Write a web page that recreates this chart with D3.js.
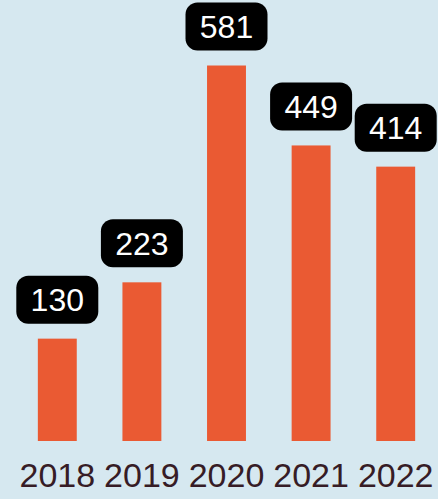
<!DOCTYPE html>
<html>
<head>
  <script src="https://d3js.org/d3.v7.min.js"></script>
  <style>
    body { margin: 0; background: #d6e8f0; }
    .year-axis text { font-family: "Liberation Sans", Arial, sans-serif; font-size: 34px; fill: #361c26; }
    .value-label { font-family: "Liberation Sans", Arial, sans-serif; font-size: 32px; fill: #fff; text-anchor: middle; }
  </style>
</head>
<body>
  <div id="chart"></div>
  <script>
    const years = ["2018", "2019", "2020", "2021", "2022"];
    const values = [130, 223, 581, 449, 414];

    const width = 438, height = 499;
    const baseY = 441;

    const svg = d3.select("#chart").append("svg")
      .attr("width", width)
      .attr("height", height);

    svg.append("rect")
      .attr("width", width)
      .attr("height", height)
      .attr("fill", "#d6e8f0");

    const x = d3.scaleBand()
      .domain(years)
      .range([15, 438])
      .paddingInner(0.54)
      .paddingOuter(0.27);

    // bars in the original don't start from zero, so the domain dips below it
    const y = d3.scaleLinear()
      .domain([-39, 600])
      .range([baseY, 54]);

    const data = years.map((yr, i) => ({ year: yr, value: values[i] }));

    svg.selectAll(".bar")
      .data(data)
      .enter()
      .append("rect")
        .attr("class", "bar")
        .attr("x", d => x(d.year))
        .attr("width", x.bandwidth())
        .attr("y", d => y(d.value))
        .attr("height", d => baseY - y(d.value))
        .attr("fill", "#ea5a33");

    // value tags
    const tagW = 82, tagH = 48, gap = 15;
    const tags = svg.selectAll(".tag")
      .data(data)
      .enter()
      .append("g")
        .attr("class", "tag")
        .attr("transform", d => `translate(${x(d.year) + x.bandwidth() / 2},${y(d.value) - gap - tagH})`);

    tags.append("rect")
      .attr("x", -tagW / 2)
      .attr("width", tagW)
      .attr("height", tagH)
      .attr("rx", 12)
      .attr("fill", "#000");

    tags.append("text")
      .attr("class", "value-label")
      .attr("y", tagH / 2)
      .attr("dy", "0.36em")
      .text(d => d.value);

    // year labels
    svg.append("g")
      .attr("class", "year-axis")
      .attr("transform", `translate(0,${baseY})`)
      .call(d3.axisBottom(x).tickSize(0).tickPadding(22))
      .call(g => g.select(".domain").remove());
  </script>
</body>
</html>
